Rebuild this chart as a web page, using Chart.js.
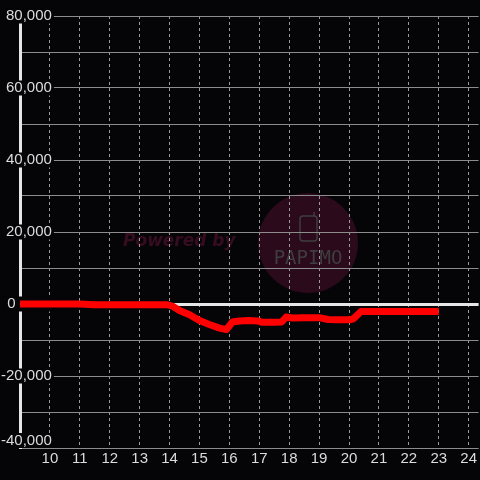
<!DOCTYPE html>
<html>
<head>
<meta charset="utf-8">
<script src="https://cdn.jsdelivr.net/npm/chart.js@4/dist/chart.umd.min.js"></script>
<style>
    html, body { margin: 0; padding: 0; background: #050407; }
    #chart { display: block; }
</style>
</head>
<body>
<canvas id="chart" width="480" height="480"></canvas>
<script>
// Données (heure -> valeur)
const hours = [8.9, 10, 11, 11.5, 12, 13, 13.9, 14.1, 14.33, 14.67, 15, 15.33, 15.67, 15.9, 16.1, 16.33,
    16.67, 16.95, 17.1, 17.5, 17.75, 17.9, 18.1, 18.5, 19, 19.3, 19.6, 20, 20.15, 20.4, 21, 22, 23];
const values = [0, 0, 0, -200, -200, -200, -200, -600, -1800, -3000, -4600, -5700, -6700, -7100, -5000, -4700,
    -4600, -4700, -5100, -5100, -5000, -3600, -3900, -3800, -3800, -4300, -4400, -4400, -4100, -2100, -2100, -2100, -2100];

const xMin = 9;
const xMax = 24.333;
const yMin = -40000;
const yMax = 80000;

const BG = '#050407';
const LABEL_COLOR = '#dcdcdc';
const FONT = { family: '"Liberation Sans", Arial, sans-serif', size: 15, lineHeight: 1 };

/**
 * Fond + filigrane "Powered by PAPIMO" (dessiné sous la grille)
 */
const backgroundPlugin = {
    id: 'background',
    beforeDraw(chart) {
        const ctx = chart.ctx;
        ctx.save();
        ctx.fillStyle = BG;
        ctx.fillRect(0, 0, chart.width, chart.height);

        // cercle du logo
        ctx.fillStyle = '#2a0a1b';
        ctx.beginPath();
        ctx.arc(308, 243, 50, 0, Math.PI * 2);
        ctx.fill();

        // icône téléphone
        ctx.strokeStyle = '#3e3e3e';
        ctx.lineWidth = 1.5;
        ctx.beginPath();
        ctx.roundRect(300, 216, 17, 25, 3);
        ctx.stroke();
        ctx.beginPath();
        ctx.moveTo(314, 216);
        ctx.lineTo(314, 212);
        ctx.stroke();

        ctx.fillStyle = '#3e3e3e';
        ctx.font = '19px "DejaVu Sans Mono"';
        ctx.textAlign = 'center';
        ctx.textBaseline = 'middle';
        ctx.fillText('PAPIMO', 308, 259);

        ctx.fillStyle = '#360d20';
        ctx.font = 'italic bold 17px "DejaVu Sans"';
        ctx.textAlign = 'left';
        ctx.fillText('Powered by', 123, 242);
        ctx.restore();
    }
};

const points = hours.map((h, i) => ({ x: h, y: values[i] }));

const fmt = v => v.toLocaleString('en-US');
const hasBackdrop = (c, keep) => (c.tick && keep(c.tick.value) ? BG : 'rgba(0,0,0,0)');

new Chart(document.getElementById('chart'), {
    type: 'line',
    data: {
        datasets: [{
            data: points,
            borderColor: '#ff0000',
            borderWidth: 7,
            borderJoinStyle: 'round',
            pointRadius: 0,
            tension: 0,
            fill: false
        }]
    },
    options: {
        responsive: false,
        animation: false,
        events: [],
        layout: { padding: { top: 16, left: 0, right: 0, bottom: 0 } },
        plugins: {
            legend: { display: false },
            tooltip: { enabled: false }
        },
        scales: {
            x: {
                type: 'linear',
                min: xMin,
                max: xMax,
                afterFit: s => { s.height = 32; },
                border: { display: false, dash: [3, 3] },
                grid: {
                    color: '#9a9a9a',
                    lineWidth: 1,
                    drawTicks: false
                },
                ticks: {
                    stepSize: 1,
                    includeBounds: false,
                    autoSkip: false,
                    maxRotation: 0,
                    padding: 3,
                    color: LABEL_COLOR,
                    font: FONT,
                    callback: v => (v === xMin ? '' : String(v))
                }
            },
            y: {
                min: yMin,
                max: yMax,
                weight: 0,
                afterFit: s => { s.width = 20; },
                border: { display: true, color: '#e6e6e6', width: 3 },
                grid: {
                    drawTicks: false,
                    color: c => (c.tick && c.tick.value === 0 ? '#e6e6e6' : '#8c8c8c'),
                    lineWidth: c => (c.tick && c.tick.value === 0 ? 3 : 1)
                },
                ticks: {
                    stepSize: 10000,
                    // libellés superposés à l'axe, alignés à droite vers x=52
                    mirror: true,
                    crossAlign: 'far',
                    padding: -19,
                    color: LABEL_COLOR,
                    font: FONT,
                    showLabelBackdrop: true,
                    backdropPadding: { left: 4, right: 2, top: 0, bottom: 0 },
                    backdropColor: c => hasBackdrop(c, v => v % 20000 === 0 && v !== yMin),
                    callback: v => {
                        if (v % 20000 !== 0 || v === yMin) return '';
                        // le zéro est décalé à gauche de l'axe
                        if (v === 0) return '0        \u2009';
                        return fmt(v);
                    }
                }
            },
            // axe auxiliaire : seulement le libellé du bas, posé au-dessus de la ligne
            yBottom: {
                min: yMin,
                max: yMax,
                position: 'left',
                weight: 1,
                afterFit: s => { s.width = 0; },
                border: { display: false },
                grid: { display: false, drawTicks: false },
                ticks: {
                    stepSize: 20000,
                    mirror: true,
                    crossAlign: 'far',
                    align: 'end',
                    padding: 1,
                    color: LABEL_COLOR,
                    font: FONT,
                    showLabelBackdrop: true,
                    backdropPadding: { left: 4, right: 2, top: 0, bottom: 0 },
                    backdropColor: c => hasBackdrop(c, v => v === yMin),
                    callback: v => (v === yMin ? fmt(v) : '')
                }
            }
        }
    },
    plugins: [backgroundPlugin]
});
</script>
</body>
</html>
